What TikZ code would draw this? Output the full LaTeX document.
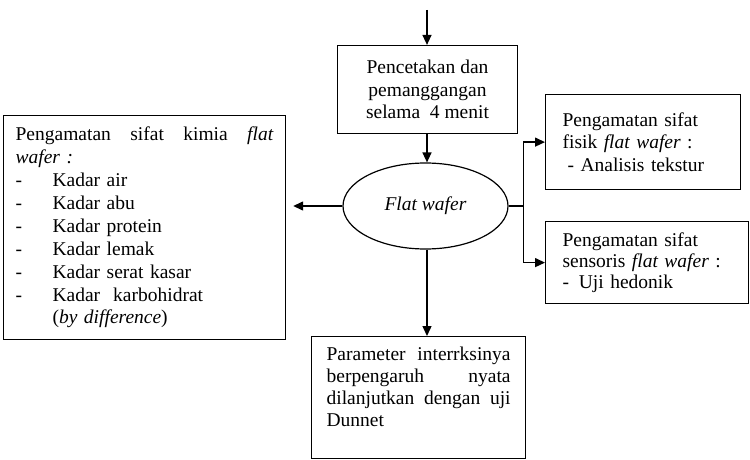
\documentclass[tikz,border=0pt]{standalone}
\usepackage{fontspec}
\setmainfont{Liberation Serif}
\usetikzlibrary{arrows.meta,positioning,shapes.geometric}
\definecolor{ink}{HTML}{000000}
\tikzset{
  >={Triangle[length=10pt,width=9pt]},
  every node/.style={font=\fontsize{19.5}{22.5}\selectfont,text=ink},
  kotak/.style={draw=ink,line width=1.2pt,rectangle,inner xsep=0pt,inner ysep=0pt},
  bulat/.style={draw=ink,line width=1.2pt,ellipse,minimum width=165pt,minimum height=86pt,inner sep=0pt},
  arus/.style={->,line width=1.4pt,draw=ink},
  garis/.style={line width=1.4pt,draw=ink},
}
\newcommand{\butir}[1]{\makebox[37pt][l]{-}#1}

\begin{document}
\begin{tikzpicture}[x=1pt,y=-1pt]
\useasboundingbox (0,0) rectangle (750,460);
\node[kotak,minimum width=180pt,minimum height=88pt,align=center] (cetak) at (427.5,89.5)
{Pencetakan dan\\ pemanggangan\\ selama\ \ 4 menit};
\node[bulat] (flat) at (425.5,206) {\textit{Flat wafer}};
\node[kotak,anchor=north west,minimum width=282pt,minimum height=224pt,text width=258pt,align=left,
  font=\fontsize{19.5}{22.9}\selectfont] (kimia) at (3,115)
{Pengamatan\hfill sifat\hfill kimia\hfill \textit{flat}\\
 \textit{wafer :}\\
 \butir{Kadar air}\\
 \butir{Kadar abu}\\
 \butir{Kadar protein}\\
 \butir{Kadar lemak}\\
 \butir{Kadar serat kasar}\\
 \butir{Kadar\ \ karbohidrat}\\
 \hspace*{37pt}(\textit{by difference})};
\node[kotak,anchor=north west,minimum width=195pt,minimum height=95pt,text width=161pt,align=left] (fisik) at (545,94)
{Pengamatan sifat\\ fisik \textit{flat wafer} :\\ \hspace*{5pt}- Analisis tekstur};
\node[kotak,anchor=north west,minimum width=203pt,minimum height=82pt,text width=169pt,align=left,
  font=\fontsize{19.5}{21}\selectfont] (sensoris) at (545,221)
{Pengamatan sifat\\ sensoris \textit{flat wafer} :\\ -\ \,Uji hedonik};
\node[kotak,anchor=north west,minimum width=214pt,minimum height=122pt,text width=184pt,align=left,
  font=\fontsize{19.5}{22}\selectfont] (dunnet) at (311,336)
{Parameter\hfill interrksinya\\ berpengaruh\hfill nyata\\ dilanjutkan\hfill dengan\hfill uji\\ Dunnet\rule[-22pt]{0pt}{22pt}};
% arus utama
\coordinate (masuk) at (427,10);
\draw[arus] (masuk) -- (masuk |- cetak.north);
\draw[arus] (cetak.south -| masuk) -- (masuk |- flat.north);
\draw[arus,shorten >=7pt] (flat.west) -- (flat.west -| kimia.east);
\draw[arus] (flat.south -| masuk) -- (masuk |- dunnet.north);
% cabang kanan
\draw[garis] (flat.east) -- ++(15,0) coordinate (cabang);
\draw[arus] (cabang) |- (fisik.west);
\draw[arus] (cabang) |- (sensoris.west);
\end{tikzpicture}
\end{document}
